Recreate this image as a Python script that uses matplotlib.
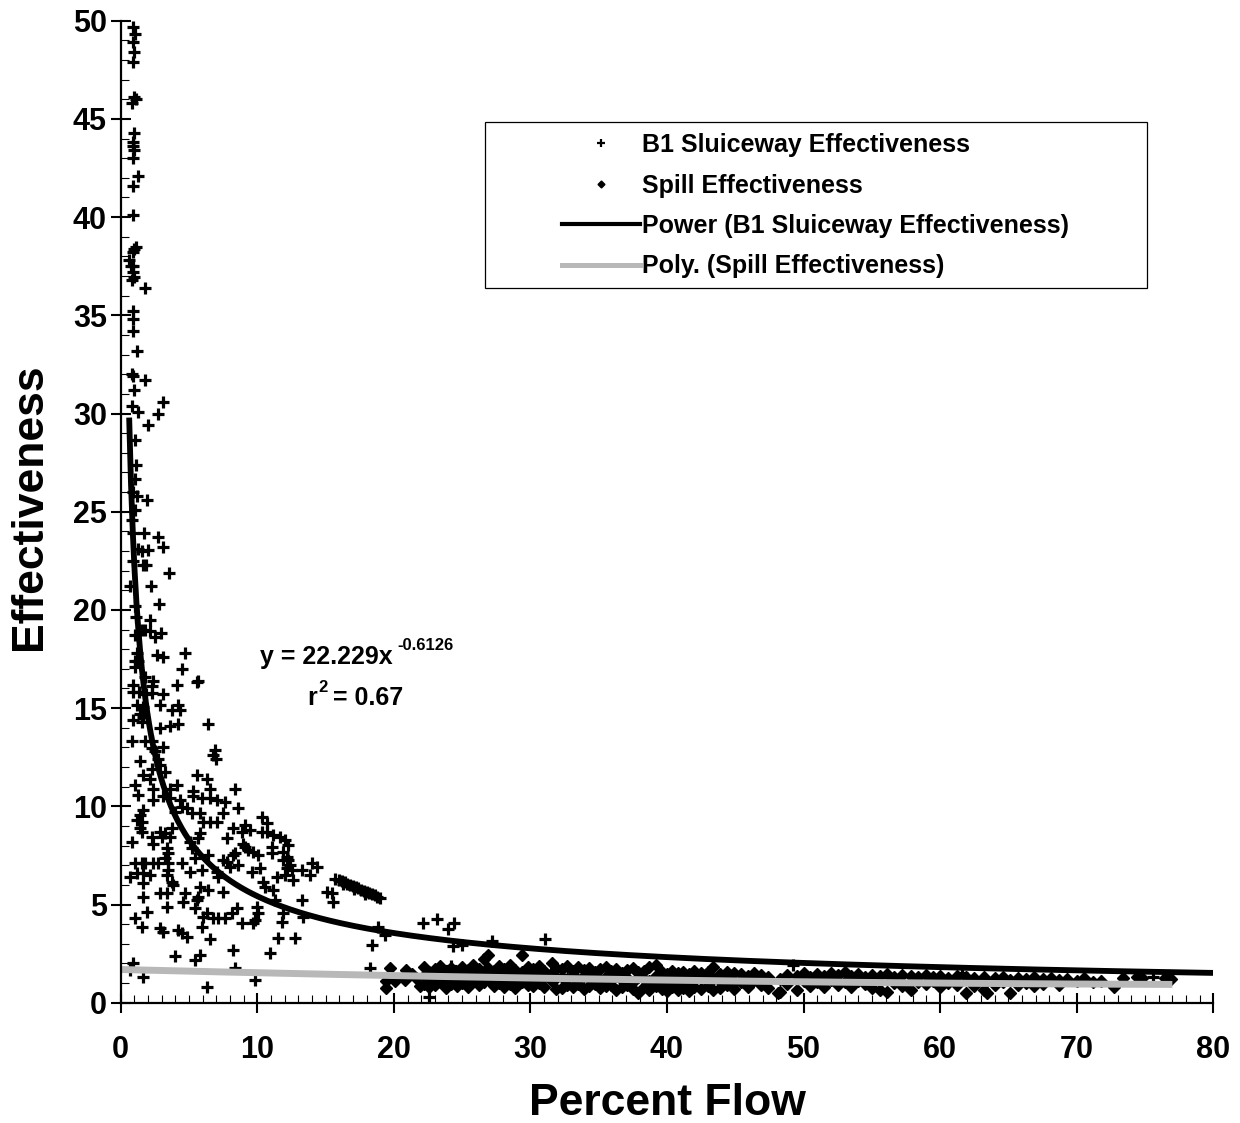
import numpy as np
import matplotlib
matplotlib.use('Agg')
import matplotlib.pyplot as plt
from matplotlib.ticker import MultipleLocator
from matplotlib.lines import Line2D
from matplotlib.patches import Rectangle

plt.rcParams['font.family'] = ['Liberation Sans', 'DejaVu Sans']
plt.rcParams['font.weight'] = 'bold'

# B1 Sluiceway Effectiveness (+ markers)
b1_x = [0.93, 1.05, 0.93, 1.0, 0.9, 0.95, 1.1, 0.85, 1.0, 0.93, 0.88, 0.98, 0.93, 1.29, 0.93, 0.93,
        1.1, 0.98, 0.93, 0.63, 0.75, 0.93, 0.88, 0.98, 0.8, 1.78, 0.88, 0.88, 0.93, 1.17, 0.8, 0.93,
        1.78, 0.98,
        0.80, 1.29, 3.07, 2.75, 2.02, 1.05, 1.12, 1.05, 0.93, 1.17, 1.95, 1.05, 0.80, 0.93, 1.71, 2.75,
        3.12, 1.29, 1.54, 2.02, 0.93, 1.61, 1.85, 3.54, 0.68, 2.20, 2.83, 1.05, 2.14, 1.12, 1.54, 1.78,
        2.14, 1.05, 2.51, 2.93, 1.17, 1.05, 2.63, 3.12, 4.71, 1.29, 1.05, 4.46, 5.68, 5.56, 1.78, 2.39,
        2.27, 4.10, 0.93, 0.88, 1.35, 1.85, 3.07, 2.27,
        1.17, 1.65, 2.88, 3.73, 4.22, 4.34, 6.41, 1.41, 0.93, 1.65, 1.54, 2.88, 3.61, 4.22, 0.80, 1.78,
        2.27, 2.27, 2.51, 3.12, 6.90, 6.98, 6.78, 1.41, 2.75, 2.88, 2.27, 1.65, 2.14, 3.24, 5.56, 6.29,
        1.05, 2.39, 3.61, 4.10, 6.54, 8.37, 1.29, 5.31, 5.31, 5.93, 6.54, 7.03, 7.64, 2.39, 3.12, 3.61,
        4.34, 4.46, 3.98, 4.83, 8.61, 1.65, 1.41, 1.17, 1.54, 5.20, 5.80, 6.05, 6.54, 7.03, 7.51, 10.32,
        10.69, 1.41, 1.54, 2.88, 3.24, 3.73, 3.0, 3.61, 5.80, 5.68, 8.24, 8.86, 9.10, 9.47, 10.32, 10.69,
        11.17, 11.66, 12.03, 12.27, 2.27, 2.39, 0.80, 7.76, 8.98, 9.34, 9.71, 10.07, 9.10, 5.07, 5.20,
        11.05, 11.05, 11.9, 12.15, 11.9, 3.37, 3.49, 3.24, 6.41, 8.24, 7.76, 8.37, 12.27, 12.39, 12.15,
        12.52, 1.05, 1.54, 1.78, 2.39, 2.75, 3.49, 3.49, 3.37, 4.46, 5.44, 5.07, 5.93, 7.51, 8.0, 8.61,
        9.59, 10.2, 13.25, 13.98, 14.35, 13.86, 0.68, 1.17, 1.65, 2.14, 7.03, 7.15, 11.42, 12.03, 12.63,
        1.65, 3.73, 3.85, 5.80, 6.41, 10.44, 10.56, 11.17,
        15.7, 16.0, 16.2, 16.4, 16.6, 16.8, 17.0, 17.2, 17.4, 17.6, 17.8, 18.0, 18.2, 18.4, 18.6, 18.8,
        19.0, 16.3, 17.1, 17.9,
        15.08, 15.45, 15.57, 1.65, 2.88, 3.37, 4.71, 4.58, 5.56, 5.68, 5.44, 7.51, 8.49, 8.12, 7.64,
        7.15, 6.78, 6.29, 6.05, 5.93, 9.96, 10.07, 9.83, 9.71, 11.3, 11.9, 11.79, 13.25, 13.37, 3.37,
        1.05, 1.54, 1.9, 2.88, 3.12, 4.22, 4.46, 4.83, 6.54, 8.86, 11.54, 12.76, 18.86, 19.35, 18.37,
        3.98, 5.44, 5.80, 8.24, 10.93, 0.93, 0.68, 1.65, 8.37, 9.83, 6.29, 18.25,
        22.16, 23.13, 23.98, 24.4, 24.3, 25.0, 27.16, 31.1, 24.2, 22.6, 49.2, 61.6, 75.6]
b1_y = [49.7, 49.3, 48.9, 48.4, 47.9, 46.1, 46.0, 45.8, 44.3, 43.8, 43.6, 43.4, 43.0, 42.1, 41.6, 40.1,
        38.5, 38.4, 38.2, 37.8, 37.5, 37.5, 37.2, 36.97, 36.8, 36.4, 35.2, 34.8, 34.2, 33.2, 32.0, 31.9,
        31.7, 31.2,
        30.4, 30.1, 30.6, 30.0, 29.4, 28.65, 27.4, 26.65, 26.0, 25.8, 25.6, 25.1, 24.6, 23.9, 23.9, 23.7,
        23.2, 23.1, 23.0, 23.05, 22.5, 22.3, 22.3, 21.9, 21.2, 21.2, 20.3, 20.2, 19.5, 19.65, 19.0, 19.0,
        18.95, 18.7, 18.6, 18.8, 17.8, 17.4, 17.7, 17.6, 17.8, 17.4, 17.1, 17.0, 16.4, 16.35, 16.6, 16.4,
        16.1, 16.2, 16.2, 15.8, 15.8, 15.7, 15.7, 15.75,
        15.16, 15.07, 15.16, 14.9, 15.16, 14.9, 14.2, 14.7, 14.4, 14.56, 14.3, 13.97, 14.1, 14.2, 13.3, 13.3,
        13.3, 12.95, 12.8, 13.0, 12.87, 12.4, 12.6, 12.3, 12.4, 12.1, 11.9, 11.6, 11.4, 11.75, 11.6, 11.4,
        11.1, 10.9, 10.9, 11.1, 10.9, 10.9, 10.6, 10.8, 10.5, 10.4, 10.4, 10.3, 10.2, 10.3, 10.5, 10.4,
        10.3, 9.98, 9.72, 9.9, 9.9, 9.81, 9.56, 9.3, 9.2, 9.64, 9.64, 9.2, 9.2, 9.2, 9.64, 9.47,
        9.13, 8.88, 8.7, 8.7, 8.62, 8.88, 8.45, 8.45, 8.62, 8.37, 8.88, 8.7, 9.05, 8.8, 8.7, 8.7,
        8.54, 8.45, 8.28, 8.03, 8.45, 8.1, 8.2, 8.37, 8.1, 7.77, 7.69, 7.52, 7.94, 8.2, 7.86,
        7.94, 7.6, 7.69, 7.43, 7.27, 7.86, 7.6, 7.35, 7.52, 7.52, 7.18, 7.6, 7.27, 7.01, 6.84,
        6.76, 7.1, 7.1, 7.1, 7.1, 7.1, 7.1, 6.76, 6.5, 7.1, 7.35, 6.67, 6.76, 7.27, 6.92, 7.01,
        6.67, 6.84, 6.76, 7.1, 6.92, 6.5, 6.42, 6.59, 6.59, 6.5, 6.67, 6.42, 6.42, 6.5, 6.25,
        6.08, 6.16, 5.99, 5.9, 5.74, 6.16, 5.9, 5.74,
        6.3, 6.25, 6.2, 6.13, 6.06, 6.0, 5.95, 5.88, 5.82, 5.76, 5.7, 5.64, 5.58, 5.52, 5.46, 5.4,
        5.33, 6.05, 5.8, 5.55,
        5.65, 5.6, 5.14, 5.4, 5.6, 5.57, 5.6, 5.14, 5.23, 5.4, 4.8, 5.65, 4.8, 4.55, 4.3,
        4.3, 4.3, 4.55, 4.38, 3.87, 4.89, 4.55, 4.21, 4.04, 5.23, 4.55, 4.12, 5.23, 4.38, 4.89,
        4.3, 3.87, 4.63, 3.79, 3.62, 3.7, 3.53, 3.33, 3.23, 4.04, 3.28, 3.28, 3.87, 3.45, 2.94,
        2.38, 2.17, 2.43, 2.68, 2.51, 2.0, 1.67, 1.32, 1.75, 1.16, 0.81, 1.75,
        4.04, 4.25, 3.74, 4.04, 2.89, 2.94, 3.16, 3.23, 1.87, 0.27, 1.92, 1.5, 1.29]

# Spill Effectiveness (diamonds)
spill_x = [19.4, 19.7, 19.4, 20.1, 20.8, 20.9, 21.3, 21.6, 21.9,
           22.2, 22.2, 22.2, 22.6, 22.6, 22.6, 23.0, 23.0, 23.0, 23.4, 23.4, 23.4, 23.8, 23.8, 23.8,
           24.2, 24.2, 24.2, 24.6, 24.6, 24.6, 25.0, 25.0, 25.0, 25.4, 25.4, 25.4, 25.8, 25.8, 25.8,
           26.2, 26.2, 26.2, 26.6, 26.6, 26.6, 26.9, 26.9, 26.9, 27.3, 27.3, 27.3, 27.7, 27.7, 27.7,
           28.1, 28.1, 28.1, 28.5, 28.5, 28.5, 28.9, 28.9, 28.9, 29.4, 29.4, 29.4, 29.8, 29.8, 29.8,
           30.2, 30.2, 30.2, 30.6, 30.6, 30.6, 31.0, 31.0, 31.0, 31.55, 31.55, 31.55, 31.9, 31.9, 31.9,
           32.3, 32.3, 32.3, 32.7, 32.7, 32.7, 33.1, 33.1, 33.1, 33.5, 33.5, 33.5, 33.9, 33.9, 33.9,
           34.3, 34.3, 34.3, 34.7, 34.7, 34.7, 35.1, 35.1, 35.1, 35.5, 35.5, 35.5, 35.9, 35.9, 35.9,
           36.3, 36.3, 36.3, 36.7, 36.7, 36.7, 37.1, 37.1, 37.1, 37.5, 37.5, 37.5, 37.9, 37.9, 37.9,
           38.3, 38.3, 38.3, 38.7, 38.7, 38.7, 39.2, 39.2, 39.2, 39.6, 39.6, 39.6, 40.0, 40.0, 40.0,
           40.4, 40.4, 40.4, 40.8, 40.8, 40.8, 41.2, 41.2, 41.2, 41.6, 41.6, 41.6, 42.0, 42.0, 42.0,
           42.5, 42.5, 42.5, 43.0, 43.0, 43.0, 43.4, 43.4, 43.4, 43.9, 43.9, 43.9, 44.4, 44.4, 44.4,
           44.9, 44.9, 44.9,
           45.4, 45.4, 45.9, 45.9, 46.4, 46.4, 46.9, 46.9, 47.4, 47.4, 48.1, 48.3, 48.3, 48.8, 48.8,
           49.5, 49.5, 50.0, 50.0, 50.5, 50.5, 51.0, 51.0, 51.5, 51.5, 52.0, 52.0, 52.5, 52.5, 53.0,
           53.0, 53.5, 53.5, 54.0, 54.0, 54.5, 54.5, 55.0, 55.0, 55.6, 55.6, 56.1, 56.1, 56.6, 56.6,
           57.2, 57.2, 57.9, 57.9, 58.4, 58.4, 59.0, 59.0, 59.5, 59.5, 60.0, 60.0, 60.6, 60.6, 61.2,
           61.2, 61.9, 61.9, 62.5, 62.5, 63.2, 63.2, 63.4, 63.4, 64.0, 64.0, 64.6, 64.6, 65.1, 65.1,
           65.7, 65.7, 66.3, 66.3, 66.9, 66.9, 67.5, 67.5, 68.1, 68.7, 68.7, 69.3, 70.0, 70.5, 71.2,
           71.8, 72.7, 73.4, 74.4, 74.8, 76.5, 76.9]
spill_y = [0.73, 1.75, 1.12, 1.12, 1.16, 1.66, 1.45, 1.25, 0.85,
           1.80, 1.35, 0.95, 1.55, 1.15, 0.80, 1.70, 1.30, 0.90, 1.85, 1.45, 1.05, 1.60, 1.20, 0.75,
           1.75, 1.35, 0.95, 1.50, 1.10, 0.85, 1.80, 1.40, 1.00, 1.65, 1.25, 0.80, 1.90, 1.50, 1.10,
           1.70, 1.30, 0.90, 2.21, 1.55, 1.05, 2.43, 1.75, 1.20, 1.60, 1.25, 0.85, 1.85, 1.45, 1.00,
           1.70, 1.15, 0.80, 1.90, 1.35, 0.95, 1.65, 1.25, 0.75, 2.43, 1.55, 1.05, 1.80, 1.40, 0.90,
           1.70, 1.20, 0.85, 1.85, 1.45, 1.00, 1.60, 1.30, 0.80, 2.04, 1.50, 1.10, 1.75, 1.25, 0.70,
           1.70, 1.30, 0.75, 1.85, 1.20, 0.90, 1.60, 1.40, 0.80, 1.80, 1.15, 0.95, 1.65, 1.35, 0.70,
           1.75, 1.25, 0.85, 1.55, 1.40, 0.95, 1.70, 1.10, 0.75, 1.80, 1.30, 0.85, 1.60, 1.20, 0.90,
           1.70, 1.35, 0.65, 1.50, 1.15, 0.80, 1.65, 1.25, 0.90, 1.75, 1.05, 0.70, 1.55, 1.30, 0.51,
           1.60, 1.20, 0.80, 1.80, 1.10, 0.65, 1.92, 1.35, 0.85, 1.55, 1.15, 0.70, 1.45, 1.05, 0.60,
           1.60, 1.25, 0.80, 1.50, 1.10, 0.65, 1.55, 1.20, 0.75, 1.45, 0.95, 0.60, 1.60, 1.15, 0.80,
           1.50, 1.25, 0.70, 1.55, 1.05, 0.85, 1.80, 1.20, 0.65, 1.45, 1.10, 0.75, 1.55, 1.30, 0.90,
           1.50, 1.00, 0.70,
           1.45, 1.05, 1.35, 0.80, 1.50, 1.15, 1.40, 0.90, 1.30, 0.75, 0.51, 0.56, 1.20, 1.40, 0.95,
           1.35, 0.65, 1.50, 1.10, 1.30, 0.85, 1.45, 1.05, 1.35, 0.80, 1.50, 1.15, 1.40, 0.90, 1.58,
           1.05, 1.35, 0.80, 1.45, 1.10, 1.30, 0.95, 1.40, 0.75, 1.35, 0.65, 1.45, 0.56, 1.30, 1.00,
           1.40, 0.85, 1.35, 0.65, 1.30, 1.05, 1.40, 0.95, 1.30, 1.10, 1.35, 0.80, 1.25, 1.00, 1.35,
           0.90, 1.30, 0.51, 1.25, 0.85, 1.30, 0.65, 0.48, 1.10, 1.25, 0.90, 1.30, 1.05, 0.48, 1.15,
           1.25, 0.90, 1.20, 1.00, 1.30, 0.85, 1.20, 0.95, 1.25, 1.15, 0.90, 1.20, 1.10, 1.24, 1.05,
           1.10, 0.81, 1.24, 1.29, 1.25, 1.24, 1.20]

# trendlines as printed on the chart
power_a = 22.229
power_b = -0.6126
power_range = (0.62, 80)
poly_coef = [0.0000981, -0.01742, 1.69]   # x^2, x, 1
poly_range = (0, 77)

W, H = 1240, 1123
fig = plt.figure(figsize=(W / 100, H / 100), dpi=100)
x0, x1, y0, y1 = 120.7, 1213.3, 20.7, 1002.7
ax = fig.add_axes([x0 / W, 1 - y1 / H, (x1 - x0) / W, (y1 - y0) / H])

ax.plot(b1_x, b1_y, ls='none', marker='+', ms=9, mew=2.3, color='black')
ax.plot(spill_x, spill_y, ls='none', marker='D', ms=6, color='black')

xp = np.linspace(power_range[0], power_range[1], 600)
ax.plot(xp, power_a * xp ** power_b, color='black', lw=4.2, solid_capstyle='butt')
xq = np.linspace(poly_range[0], poly_range[1], 200)
ax.plot(xq, np.polyval(poly_coef, xq), color='#b8b8b8', lw=5, solid_capstyle='butt')

ax.set_xlim(0, 80)
ax.set_ylim(0, 50)
ax.xaxis.set_major_locator(MultipleLocator(10))
ax.xaxis.set_minor_locator(MultipleLocator(1))
ax.yaxis.set_major_locator(MultipleLocator(5))
ax.yaxis.set_minor_locator(MultipleLocator(1))
for s in ['top', 'right']:
    ax.spines[s].set_visible(False)
for s in ['left', 'bottom']:
    ax.spines[s].set_linewidth(1.6)
ax.tick_params(which='major', direction='inout', length=14, width=1.5, labelsize=22)
ax.tick_params(which='minor', direction='in', length=5.5, width=0.8)
ax.tick_params(axis='x', which='major', pad=16)
ax.tick_params(axis='y', which='major', pad=3)
for lab in ax.get_xticklabels() + ax.get_yticklabels():
    lab.set_fontweight('bold')

def fx(px):
    return px / W

def fy(py):
    return 1 - py / H

fig.text(fx(667), fy(1115), 'Percent Flow', fontsize=32, fontweight='bold',
         ha='center', va='baseline')
fig.text(fx(30), fy(507), 'Effectiveness', fontsize=32, fontweight='bold',
         ha='center', va='center', rotation=90)

# trendline equation
fig.text(fx(260), fy(664), 'y = 22.229x', fontsize=18, fontweight='bold', va='baseline')
fig.text(fx(397), fy(650), '-0.6126', fontsize=12, fontweight='bold', va='baseline')
fig.text(fx(307), fy(705), 'r', fontsize=18, fontweight='bold', va='baseline')
fig.text(fx(318), fy(692), '2', fontsize=12, fontweight='bold', va='baseline')
fig.text(fx(326), fy(705), ' = 0.67', fontsize=18, fontweight='bold', va='baseline')

# legend with a separate frame box
handles = [Line2D([], [], ls='none', marker='+', ms=6, mew=1.6, color='black'),
           Line2D([], [], ls='none', marker='D', ms=3.5, color='black'),
           Line2D([], [], color='black', lw=3),
           Line2D([], [], color='#b8b8b8', lw=3.6)]
labels = ['B1 Sluiceway Effectiveness', 'Spill Effectiveness',
          'Power (B1 Sluiceway Effectiveness)', 'Poly. (Spill Effectiveness)']
fig.legend(handles, labels, loc='upper left', bbox_to_anchor=(fx(562), fy(133)),
           frameon=False, prop={'size': 18, 'weight': 'bold'}, borderpad=0,
           borderaxespad=0, handlelength=3.1, handletextpad=0.12, labelspacing=0.66)
fig.patches.append(Rectangle((fx(485), fy(288)), fx(1147) - fx(485), fy(122) - fy(288),
                             transform=fig.transFigure, fill=False, edgecolor='black', lw=0.9))

fig.savefig('out.png', dpi=100)
